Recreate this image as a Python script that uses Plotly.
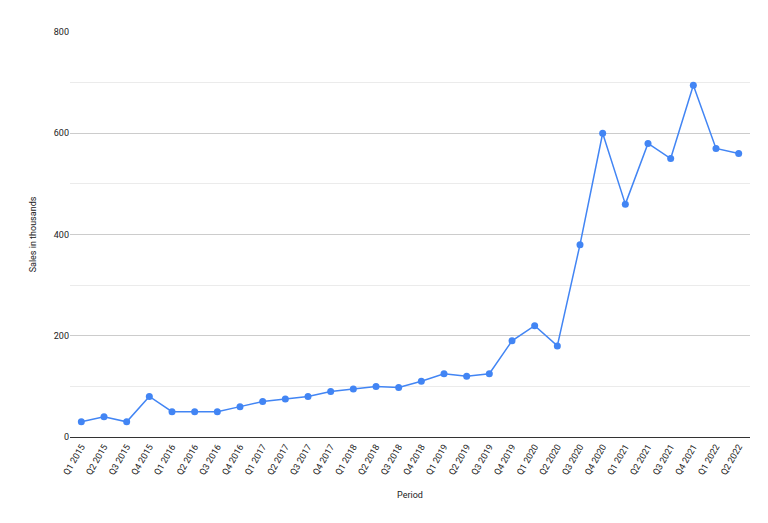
import plotly.graph_objects as go

periods = [f"Q{q} {y}" for y in range(2015, 2023) for q in range(1, 5)][:30]
sales = [30, 40, 30, 80, 50, 50, 50, 60, 70, 75, 80, 90, 95, 100, 98, 110,
         125, 120, 125, 190, 220, 180, 380, 600, 460, 580, 550, 695, 570, 560]

fig = go.Figure()
fig.add_trace(go.Scatter(
    x=periods, y=sales, mode='lines+markers',
    line=dict(color='#4285F4', width=1.5),
    marker=dict(color='#4285F4', size=7),
))

fig.update_layout(
    width=768, height=523,
    margin=dict(l=62, r=26, t=24, b=94),
    plot_bgcolor='white', paper_bgcolor='white',
    font=dict(family='Roboto', size=9, color='#222222'),
    showlegend=False,
    xaxis=dict(title=dict(text='Period', font=dict(size=9)), tickangle=-60,
               showgrid=False, showline=True, linecolor='#333333',
               range=[-0.5, 29.5]),
    yaxis=dict(title=dict(text='Sales in thousands', font=dict(size=9)),
               range=[0, 800], tickvals=[0, 200, 400, 600, 800],
               showgrid=True, gridcolor='#cccccc', zeroline=False,
               minor=dict(dtick=100, showgrid=True, gridcolor='#ebebeb'),
               ticklen=0),
)

fig.write_html("out.html")
